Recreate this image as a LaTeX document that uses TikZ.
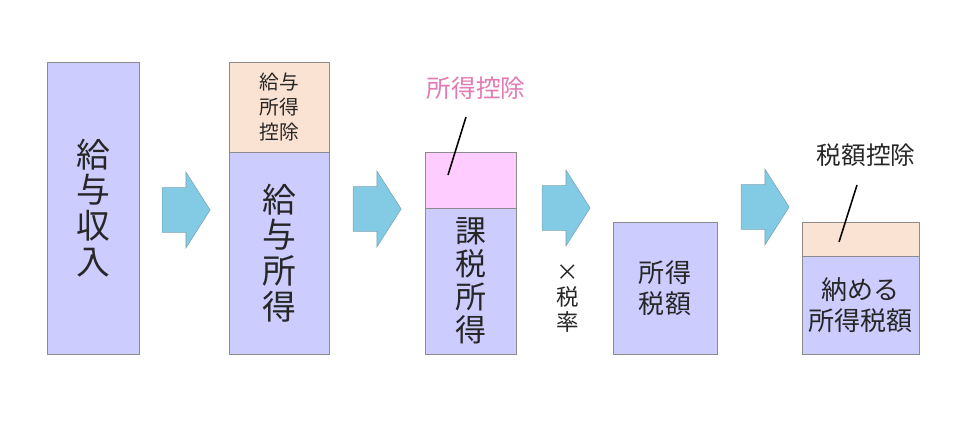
\documentclass[tikz,border=0pt]{standalone}
\usepackage{fontspec}
\setmainfont{Noto Sans CJK JP}
\usetikzlibrary{shapes.arrows, positioning}

\definecolor{lavender}{HTML}{CCCCFF}
\definecolor{peach}{HTML}{FBE3D3}
\definecolor{rosy}{HTML}{FFCCFF}
\definecolor{flowblue}{HTML}{83CAE4}
\definecolor{rosetext}{HTML}{E37AB4}
\definecolor{inktext}{HTML}{262626}

\tikzset{
  box/.style={rectangle, draw=black!45, line width=0.5pt, fill=lavender, inner sep=0pt, align=center, text=inktext},
  deduct/.style={box, fill=peach},
  flowarrow/.style={single arrow, fill=flowblue, draw=flowblue!70!black!80, line width=0.4pt,
    single arrow head extend=0.39cm, single arrow tip angle=115,
    minimum height=1.2cm, inner xsep=0pt, inner ysep=0.55cm},
  note/.style={align=center, text=inktext}
}

\begin{document}
\begin{tikzpicture}[x=0.025cm, y=-0.025cm]
    \useasboundingbox (0,0) rectangle (960,434);

    % Boxes
    \node[box, minimum width=2.3cm, minimum height=7.3cm, font=\fontsize{24}{25.5}\selectfont] (income) at (93,208) {給\\与\\収\\入};

    \node[deduct, minimum width=2.5cm, minimum height=2.25cm, font=\fontsize{14}{17.5}\selectfont] (salded) at (279,107) {給与\\所得\\控除};
    \node[box, minimum width=2.5cm, minimum height=5.05cm, font=\fontsize{24}{25.5}\selectfont] (salary) at (279,253) {給\\与\\所\\得};

    \node[box, fill=rosy, minimum width=2.275cm, minimum height=1.4cm] (incded) at (470.5,180) {};
    \node[box, minimum width=2.275cm, minimum height=3.65cm, font=\fontsize{22}{23.5}\selectfont] (taxable) at (470.5,281) {課\\税\\所\\得};

    \node[box, minimum width=2.6cm, minimum height=3.3cm, font=\fontsize{18.5}{22}\selectfont] (taxamt) at (665,288) {所得\\税額};

    \node[deduct, minimum width=2.925cm, minimum height=0.85cm] (taxded) at (860.5,239) {};
    \node[box, minimum width=2.925cm, minimum height=2.45cm, font=\fontsize{18.5}{22.5}\selectfont] (payable) at (860.5,305) {納める\\所得税額};

    % Arrows
    \node[flowarrow] (a1) at (179,210) {};
    \node[flowarrow] (a2) at (370,209) {};
    \node[flowarrow] (a3) at (559,208) {};
    \node[flowarrow] (a4) at (758,207) {};

    % Labels
    \node[note, text=rosetext, font=\fontsize{17.5}{20}\selectfont] (incnote) at (476,88) {所得控除};
    \node[note, font=\fontsize{17.5}{20}\selectfont] (taxnote) at (866,155) {税額控除};
    \node[note, font=\fontsize{16}{17.8}\selectfont] (rate) at (568,299) {×\\税\\率};

    \coordinate (incfrom) at (466,117);
    \coordinate (incto) at (448,175);
    \coordinate (taxfrom) at (857,185);
    \coordinate (taxto) at (839,242);
    \draw[line width=1.1pt] (incfrom) -- (incto);
    \draw[line width=1.1pt] (taxfrom) -- (taxto);
\end{tikzpicture}
\end{document}
